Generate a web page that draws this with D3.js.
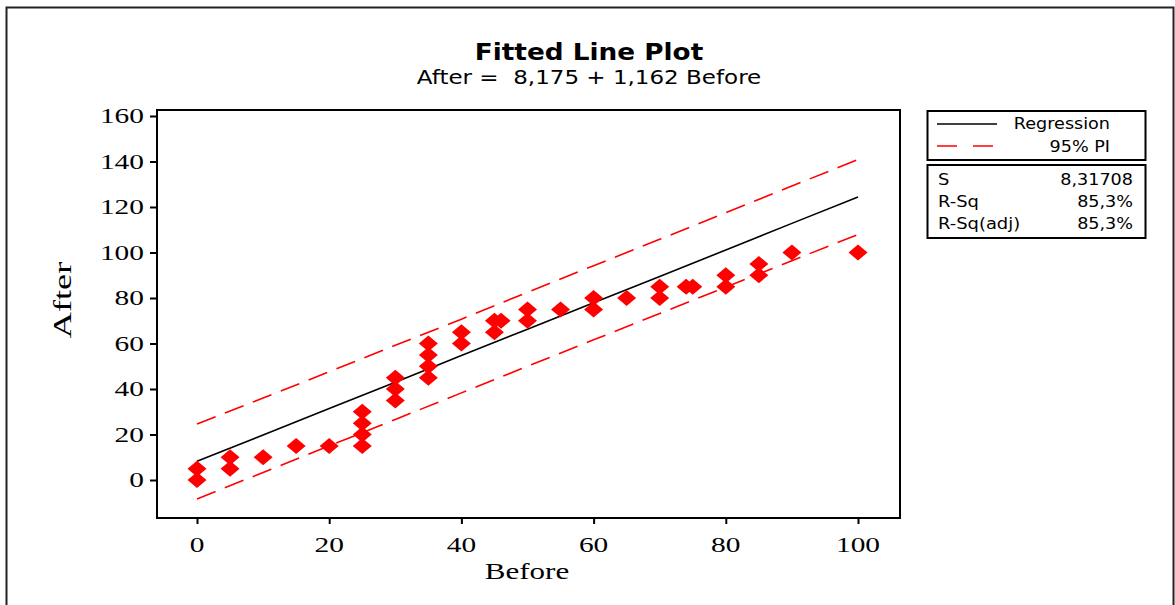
<!DOCTYPE html>
<html><head><meta charset="utf-8">
<script src="https://cdn.jsdelivr.net/npm/d3@7"></script>
<style>body{margin:0;background:#fff;}svg{display:block;}</style>
</head><body>
<svg id="c" width="1175" height="605"></svg>
<script>
// Observed data (Before, After)
const beforeVals = [0,0,5,5,10,15,20,25,25,25,25,30,30,30,35,35,35,35,40,40,45,45,46,50,50,55,60,60,65,70,70,74,75,80,80,85,85,90,100];
const afterVals  = [0,5,5,10,10,15,15,15,20,25,30,35,40,45,45,50,55,60,60,65,65,70,70,70,75,75,75,80,80,80,85,85,85,85,90,90,95,100,100];
// Fitted line and 95% prediction interval, read at these Before values
const fitX    = [0,10,20,30,40,50,60,70,80,90,100];
const fitY    = [8.2,19.8,31.4,43.0,54.7,66.3,77.9,89.5,101.1,112.8,124.4];
const piUpper = [24.6,36.0,47.6,59.2,70.7,82.5,94.2,105.8,117.5,129.2,140.9];
const piLower = [-8.3,3.3,15.0,26.6,38.3,50.0,61.6,73.2,84.8,96.4,107.9];
const xTicks = [0,20,40,60,80,100];
const yTicks = [0,20,40,60,80,100,120,140,160];
const statLabels = ["S","R-Sq","R-Sq(adj)"];
const statValues = ["8,31708","85,3%","85,3%"];
const legendLabels = ["Regression","95% PI"];

const svg = d3.select("#c");
const L=157, T=110, R=900, B=518;
const x = d3.scaleLinear().domain([0,100]).range([197,858]);
const y = d3.scaleLinear().domain([0,160]).range([480,116]);

function txt(px,py,str,o){
  const t = svg.append("text")
    .attr("transform",`translate(${px},${py})${o.rot?` rotate(${o.rot})`:""} scale(${o.sx||1},1)`)
    .attr("text-anchor",o.anchor||"start")
    .attr("font-family",o.family||"DejaVu Sans")
    .attr("font-size",o.size||15)
    .attr("fill","#000")
    .attr("xml:space","preserve")
    .text(str);
  if(o.weight) t.attr("font-weight",o.weight);
  return t;
}

// outer border
svg.append("rect").attr("x",6.5).attr("y",7.5).attr("width",1167).attr("height",640)
  .attr("fill","none").attr("stroke","#222").attr("stroke-width",2);

// titles
txt(589,60,"Fitted Line Plot",{size:23.5,weight:"bold",anchor:"middle",sx:1.12});
txt(589,84,"After =  8,175 + 1,162 Before",{size:20,anchor:"middle",sx:1.15});

// axes
const xAxis = d3.axisBottom(x).tickValues(xTicks).tickSize(6).tickFormat("");
const yAxis = d3.axisLeft(y).tickValues(yTicks).tickSize(7).tickFormat("");
const gx = svg.append("g").attr("transform",`translate(0,${B})`).call(xAxis);
const gy = svg.append("g").attr("transform",`translate(${L},0)`).call(yAxis);
[gx,gy].forEach(g=>{
  g.select(".domain").remove();
  g.selectAll("line").attr("stroke","#000").attr("stroke-width",2);
});
xTicks.forEach(v=>txt(x(v),552,String(v),{family:"Liberation Serif",size:21,anchor:"middle",sx:1.4}));
yTicks.forEach(v=>txt(144,y(v)+7,String(v),{family:"Liberation Serif",size:21,anchor:"end",sx:1.4}));

// frame
svg.append("rect").attr("x",L).attr("y",T).attr("width",R-L).attr("height",B-T)
  .attr("fill","none").attr("stroke","#000").attr("stroke-width",2);

// axis labels
txt(527,579,"Before",{family:"Liberation Serif",size:23,anchor:"middle",sx:1.35});
txt(71,300,"After",{family:"Liberation Serif",size:25,anchor:"middle",rot:-90,sx:1.45});

const line = d3.line().x(d=>x(d[0])).y(d=>y(d[1]));
// PI bands
[piUpper,piLower].forEach(arr=>{
  svg.append("path").datum(fitX.map((v,i)=>[v,arr[i]])).attr("d",line)
    .attr("fill","none").attr("stroke","#ff0000").attr("stroke-width",1.6).attr("stroke-dasharray","20,10");
});
// regression
svg.append("path").datum(fitX.map((v,i)=>[v,fitY[i]])).attr("d",line)
  .attr("fill","none").attr("stroke","#000").attr("stroke-width",1.6);

// points
const hw=9.5, hh=8;
svg.append("g").selectAll("path").data(beforeVals.map((v,i)=>[v,afterVals[i]])).join("path")
  .attr("d",d=>{const cx=x(d[0]), cy=y(d[1]);return `M${cx},${cy-hh}L${cx+hw},${cy}L${cx},${cy+hh}L${cx-hw},${cy}Z`;})
  .attr("fill","#ff0000");

// legend box 1
svg.append("rect").attr("x",927.5).attr("y",111).attr("width",218).attr("height",49)
  .attr("fill","none").attr("stroke","#000").attr("stroke-width",2);
svg.append("line").attr("x1",937).attr("x2",997).attr("y1",124).attr("y2",124).attr("stroke","#000").attr("stroke-width",1.5);
svg.append("line").attr("x1",937).attr("x2",997).attr("y1",146).attr("y2",146).attr("stroke","#ff0000").attr("stroke-width",1.5).attr("stroke-dasharray","20,16");
legendLabels.forEach((t,i)=>txt(1110,129+i*23,t,{size:16,anchor:"end",sx:1.1}));
// legend box 2
svg.append("rect").attr("x",927.5).attr("y",165).attr("width",218).attr("height",73)
  .attr("fill","none").attr("stroke","#000").attr("stroke-width",2);
statLabels.forEach((t,i)=>{
  txt(938,185+i*22,t,{size:16,sx:1.12});
  txt(1133,185+i*22,statValues[i],{size:16,anchor:"end",sx:1.1});
});
</script>
</body></html>
